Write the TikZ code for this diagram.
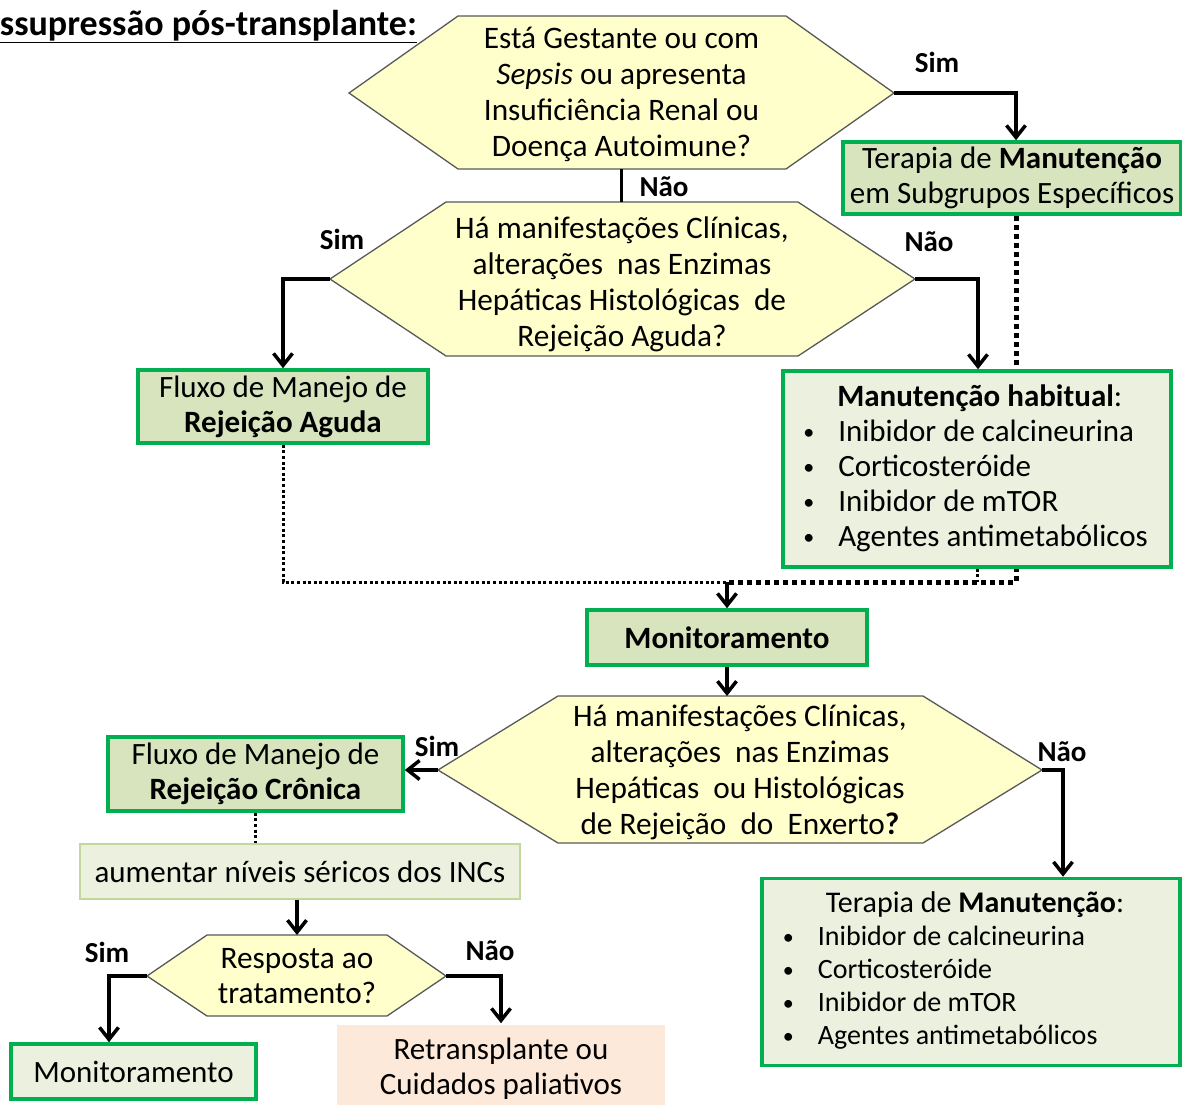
\documentclass[tikz,border=0pt]{standalone}
\usepackage{fontspec}
\setmainfont{Carlito}
\usetikzlibrary{arrows.meta,backgrounds,calc}
\definecolor{qyel}{HTML}{FFFFCC}
\definecolor{gdark}{HTML}{D7E4BD}
\definecolor{glight}{HTML}{EBF1DE}
\definecolor{gborder}{HTML}{00B050}
\definecolor{peach}{HTML}{FDE9D9}
\definecolor{hexline}{HTML}{595959}
\definecolor{aumline}{HTML}{C3D69B}
\newcommand\mybul[1]{\makebox[#1][l]{\raisebox{1.5pt}{\fontsize{22}{22}\selectfont\textbullet}}}
\begin{document}
\begin{tikzpicture}[x=1pt,y=-1pt,
  conn/.style={line width=3.5pt,black},
  arr/.style={conn,-{Straight Barb[length=12pt,width=19pt]}},
  thindot/.style={line width=3pt,dash pattern=on 3pt off 2.6pt},
  thickdot/.style={line width=5pt,dash pattern=on 5pt off 4pt},
  hexq/.style={fill=qyel,draw=hexline,line width=1.3pt},
  qtext/.style={align=center,font=\fontsize{31.3}{36}\selectfont,inner sep=0pt},
  gbox/.style={draw=gborder,line width=3.6pt,inner sep=0pt,align=center,font=\fontsize{31}{35}\selectfont},
  lab/.style={font=\bfseries\fontsize{29}{34}\selectfont,inner sep=0pt},
  titlestyle/.style={font=\bfseries\fontsize{36}{40}\selectfont,inner sep=0pt}]
\useasboundingbox (0,0) rectangle (1182,1104);

% title
\node[titlestyle,anchor=base east] (title) at (417,35) {\underline{ssupressão pós-transplante:}};

% decision hexagons
\path[hexq] (349,93) coordinate (q1W) -- (458,16) -- (786,16) -- (894,93) coordinate (q1E) -- (786,169) -- (458,169) -- cycle;
\coordinate (q1S) at (621.5,169);
\node[qtext] (q1) at (621.5,94) {Está Gestante ou com\\\textit{Sepsis} ou apresenta\\Insuficiência Renal ou\\Doença Autoimune?};

\path[hexq] (330,279) coordinate (q2W) -- (446,202) -- (798,202) -- (915,279) coordinate (q2E) -- (798,356) -- (446,356) -- cycle;
\coordinate (q2N) at (621.5,202);
\node[qtext] (q2) at (622,284) {Há manifestações Clínicas,\\alterações~ nas Enzimas\\Hepáticas Histológicas~ de\\Rejeição Aguda?};

\path[hexq] (438,770) coordinate (q3W) -- (558,696) -- (923,696) -- (1042,770) coordinate (q3E) -- (923,843) -- (558,843) -- cycle;
\coordinate (q3N) at (727,696);
\node[qtext] (q3) at (740,772) {Há manifestações Clínicas,\\alterações~ nas Enzimas\\Hepáticas~ ou Histológicas\\de Rejeição~ do~ Enxerto\textbf{?}};

\path[hexq] (147,976) coordinate (q4W) -- (207,935) -- (387,935) -- (446,976) coordinate (q4E) -- (387,1016) -- (207,1016) -- cycle;
\coordinate (q4N) at (297,935);
\node[qtext,font=\fontsize{31.3}{35}\selectfont] (q4) at (297,976) {Resposta ao\\tratamento?};

% boxes
\node[gbox,fill=gdark,minimum width=338,minimum height=72] (tsub) at (1012,178) {Terapia de \textbf{Manutenção}\\em Subgrupos Específicos};
\node[gbox,fill=gdark,minimum width=290,minimum height=73] (aguda) at (283,406.5) {\raisebox{-2pt}{Fluxo de Manejo de}\\\raisebox{-2pt}{\textbf{Rejeição Aguda}}};
\node[gbox,fill=glight,minimum width=388,minimum height=196] (habit) at (977,469)
 {\begin{tabular}{@{}l@{\hspace{3pt}}}
  \hspace{34pt}\textbf{Manutenção habitual}:\\
  \mybul{35pt}Inibidor de calcineurina\\
  \mybul{35pt}Corticosteróide\\
  \mybul{35pt}Inibidor de mTOR\\
  \mybul{35pt}Agentes antimetabólicos
  \end{tabular}};
\node[gbox,fill=gdark,minimum width=280,minimum height=55] (mon1) at (727,637.5) {\textbf{Monitoramento}};
\node[gbox,fill=gdark,minimum width=295,minimum height=74] (cron) at (255.5,774) {Fluxo de Manejo de\\\textbf{Rejeição Crônica}};
\node[gbox,fill=glight,draw=aumline,line width=1.5pt,minimum width=440,minimum height=55] (aum) at (300,871.5) {aumentar níveis séricos dos INCs};
\node[gbox,fill=glight,minimum width=418,minimum height=187,font=\fontsize{28}{33}\selectfont] (tman) at (971,972)
 {\begin{tabular}{@{}l@{\hspace{35pt}}}
  \hspace{43pt}{\fontsize{30}{33}\selectfont Terapia de \textbf{Manutenção}:}\\
  \mybul{35pt}Inibidor de calcineurina\\
  \mybul{35pt}Corticosteróide\\
  \mybul{35pt}Inibidor de mTOR\\
  \mybul{35pt}Agentes antimetabólicos
  \end{tabular}};
\node[gbox,fill=glight,minimum width=245,minimum height=55] (mon2) at (133.5,1071.5) {Monitoramento};
\node[gbox,draw=none,fill=peach,minimum width=328,minimum height=88] (retr) at (501,1069) {Retransplante ou\\Cuidados paliativos};

% labels
\node[lab] (l1) at (937,62) {Sim};
\node[lab] (l2) at (664,187) {Não};
\node[lab] (l3) at (342,239) {Sim};
\node[lab] (l4) at (929,242) {Não};
\node[lab] (l5) at (437,746) {Sim};
\node[lab] (l6) at (1062,752) {Não};
\node[lab] (l7) at (107,952) {Sim};
\node[lab] (l8) at (490,951) {Não};

% helper coordinates
\coordinate (join) at (727,582);
\coordinate (t3) at (1063,0);
\coordinate (t4) at (109,0);

% connectors
\draw[arr] (q1E) -| ([xshift=4pt]tsub.north);
\draw[conn] (q1S) -- (q2N);
\draw[arr] (q2W) -| (aguda.north);
\draw[arr] (q2E) -| ([xshift=1pt]habit.north);
\begin{scope}[on background layer]
\draw[thickdot] ([xshift=4pt]tsub.south) |- (join);
\end{scope}
\draw[thindot] (aguda.south) |- (join);
\draw[thindot] (habit.south) -- (habit.south |- join);
\draw[arr] (join) -- (mon1.north);
\draw[arr] (mon1.south) -- (q3N);
\draw[arr] (q3W) -- (q3W -| cron.east);
\draw[arr] (q3E) -| (t3 |- tman.north);
\draw[thindot] (cron.south) -- (cron.south |- aum.north);
\draw[arr] (q4N |- aum.south) -- (q4N);
\draw[arr] (q4W) -| (t4 |- mon2.north);
\draw[arr] (q4E) -| (retr.north);
\end{tikzpicture}
\end{document}
